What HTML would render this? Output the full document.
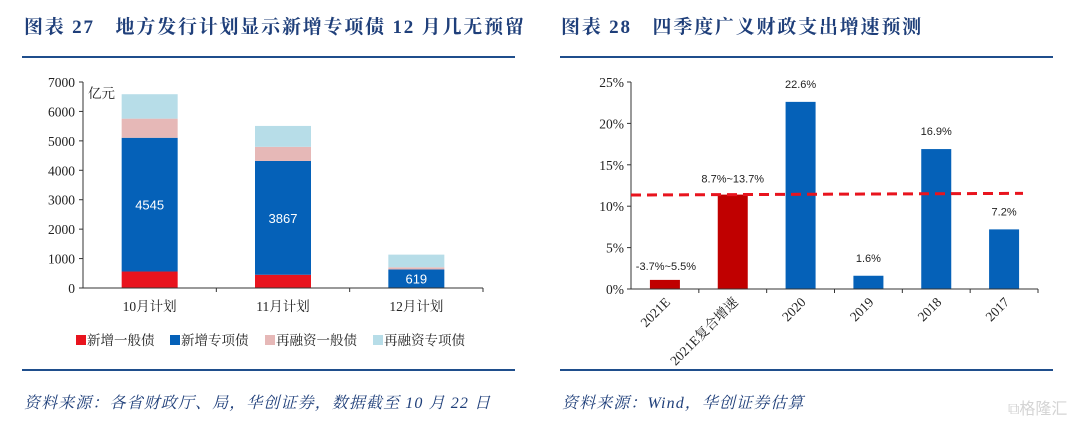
<!DOCTYPE html>
<html><head><meta charset="utf-8">
<style>
html,body{margin:0;padding:0;background:#fff;}
svg{display:block;}
.t{font-family:"Liberation Serif","Noto Serif CJK SC",serif;font-weight:bold;fill:#1F3F7A;font-size:19px;letter-spacing:1.8px;}
.f{font-family:"Liberation Serif","Noto Serif CJK SC",serif;font-style:italic;fill:#1F3F7A;font-size:16px;letter-spacing:1.1px;}
.ax{font-family:"Liberation Serif","Noto Serif CJK SC",serif;font-size:13.5px;fill:#222;}
.lb{font-family:"Liberation Sans","Noto Sans CJK SC",sans-serif;font-size:11px;fill:#222;}
</style></head>
<body>
<svg id="s" width="1080" height="429" viewBox="0 0 1080 429" xmlns="http://www.w3.org/2000/svg">
<text class="t" x="24" y="33">图表 27　地方发行计划显示新增专项债 12 月几无预留</text>
<line x1="22" y1="57" x2="515" y2="57" stroke="#1F4E8C" stroke-width="2"/>
<line x1="22" y1="370" x2="515" y2="370" stroke="#1F4E8C" stroke-width="2"/>
<text class="f" x="24" y="408">资料来源：各省财政厅、局，华创证券，数据截至 10 月 22 日</text>

<text class="t" x="561" y="33">图表 28　四季度广义财政支出增速预测</text>
<line x1="560" y1="57" x2="1053" y2="57" stroke="#1F4E8C" stroke-width="2"/>
<line x1="560" y1="370" x2="1053" y2="370" stroke="#1F4E8C" stroke-width="2"/>
<text class="f" x="562" y="408">资料来源：Wind，华创证券估算</text>
<text x="1008" y="414" font-family="Liberation Sans,Noto Sans CJK SC,sans-serif" font-size="16" fill="#d4d4d4">⧉格隆汇</text>

<g id="left"></g>
<g id="right"></g>
</svg>
<script>
const NS='http://www.w3.org/2000/svg';
function mk(parent,tag,attrs,text){const e=document.createElementNS(NS,tag);for(const k in attrs)e.setAttribute(k,attrs[k]);if(text!==undefined)e.textContent=text;parent.appendChild(e);return e;}

// ---- left chart data ----
const leftCategories=['10月计划','11月计划','12月计划'];
const newGeneral=[560,450,10];
const newSpecial=[4545,3867,619];
const refiGeneral=[650,480,75];
const refiSpecial=[830,710,430];
const leftTicks=[0,1000,2000,3000,4000,5000,6000,7000];
const seriesNames=['新增一般债','新增专项债','再融资一般债','再融资专项债'];
const seriesColors=['#E8141E','#0561B8','#E6B8B7','#B7DDE8'];

// ---- right chart data ----
const rightCategories=['2021E','2021E复合增速','2020','2019','2018','2017'];
const growthValues=[1.1,11.4,22.6,1.6,16.9,7.2];
const growthLabels=['-3.7%~5.5%','8.7%~13.7%','22.6%','1.6%','16.9%','7.2%'];
const growthIsForecast=[true,true,false,false,false,false];
const refLineStart=11.35;
const refLineEnd=11.55;
const rightTicks=[0,5,10,15,20,25];

// left chart
(function(){
 const g=document.getElementById('left');
 const x0=83,x1=483,y0=288,yTop=82,max=7000;
 const y=v=>y0-(v/max)*(y0-yTop);
 const bw=(x1-x0)/leftCategories.length;
 const xc=i=>x0+bw*(i+0.5);
 leftTicks.forEach(t=>{
  const tl=mk(g,'line',{x1:x0-4,x2:x0,y1:y(t),y2:y(t),stroke:'#333'});
  
  
  const tx=mk(g,'text',{class:'ax',x:x0-8,y:y(t)+5,'text-anchor':'end'},String(t));
  
  
 });
 const series=[newGeneral,newSpecial,refiGeneral,refiSpecial];
 leftCategories.forEach((c,i)=>{
  let base=0;
  series.forEach((s,k)=>{
   const r=mk(g,'rect',{x:xc(i)-28,width:56,y:y(base+s[i]),height:y(base)-y(base+s[i]),fill:seriesColors[k]});
   
   
   if(k===1){
    const lt=mk(g,'text',{x:xc(i),y:(y(base)+y(base+s[i]))/2+5,'text-anchor':'middle',fill:'#fff','font-family':'Liberation Sans,sans-serif','font-size':'13'},String(s[i]));
    
    
   }
   base+=s[i];
  });
  const cl=mk(g,'text',{class:'ax',x:xc(i),y:y0+23,'text-anchor':'middle'},c);
  
  
  const tk=mk(g,'line',{x1:x0+bw*(i+1),x2:x0+bw*(i+1),y1:y0,y2:y0+4,stroke:'#333'});
  
  
 });
 const ya=mk(g,'line',{x1:x0,x2:x0,y1:yTop,y2:y0,stroke:'#333'});
 
 
 const xa=mk(g,'line',{x1:x0,x2:x1,y1:y0,y2:y0,stroke:'#333'});
 
 
 const un=mk(g,'text',{class:'ax',x:88,y:98,'font-size':'15'},'亿元');
 
 
 const lx=[76,170,265,373];
 seriesNames.forEach((n,k)=>{
  const le=mk(g,'g',{});
  
  
  mk(le,'rect',{x:lx[k],y:335,width:10,height:10,fill:seriesColors[k]});
  mk(le,'text',{class:'ax',x:lx[k]+11,y:345,'font-size':'14'},n);
 });
})();

// right chart
(function(){
 const g=document.getElementById('right');
 const x0=631,x1=1038,y0=289,yTop=82,max=25;
 const y=v=>y0-(v/max)*(y0-yTop);
 const bw=(x1-x0)/rightCategories.length;
 const xc=i=>x0+bw*(i+0.5);
 rightTicks.forEach(t=>{
  const tl=mk(g,'line',{x1:x0-4,x2:x0,y1:y(t),y2:y(t),stroke:'#333'});
  
  
  const tx=mk(g,'text',{class:'ax',x:x0-7,y:y(t)+5,'text-anchor':'end'},t+'%');
  
  
 });
 rightCategories.forEach((c,i)=>{
  const r=mk(g,'rect',{x:xc(i)-15,width:30,y:y(growthValues[i]),height:y0-y(growthValues[i]),fill:growthIsForecast[i]?'#C00000':'#0561B8'});
  
  
  const vl=mk(g,'text',{class:'lb',x:xc(i)+(i===0?1:0),y:y(growthValues[i])-(i===1?12:i===0?10:14),'text-anchor':'middle'},growthLabels[i]);
  
  
  const cx=xc(i)+6,cy=y0+14;
  const cl=mk(g,'text',{class:'ax',x:cx,y:cy,'text-anchor':'end',transform:'rotate(-45 '+cx+' '+cy+')','font-size':'13'},c);
  
  
  const tk=mk(g,'line',{x1:x0+bw*(i+1),x2:x0+bw*(i+1),y1:y0,y2:y0+4,stroke:'#333'});
  
  
 });
 const ya=mk(g,'line',{x1:x0,x2:x0,y1:yTop,y2:y0,stroke:'#333'});
 
 
 const xa=mk(g,'line',{x1:x0,x2:x1,y1:y0,y2:y0,stroke:'#333'});
 
 
 const dl=mk(g,'line',{x1:x0,x2:1023,y1:y(refLineStart),y2:y(refLineEnd),stroke:'#E8141E','stroke-width':3,'stroke-dasharray':'10 6'});
 
 
})();
</script>
</body></html>
